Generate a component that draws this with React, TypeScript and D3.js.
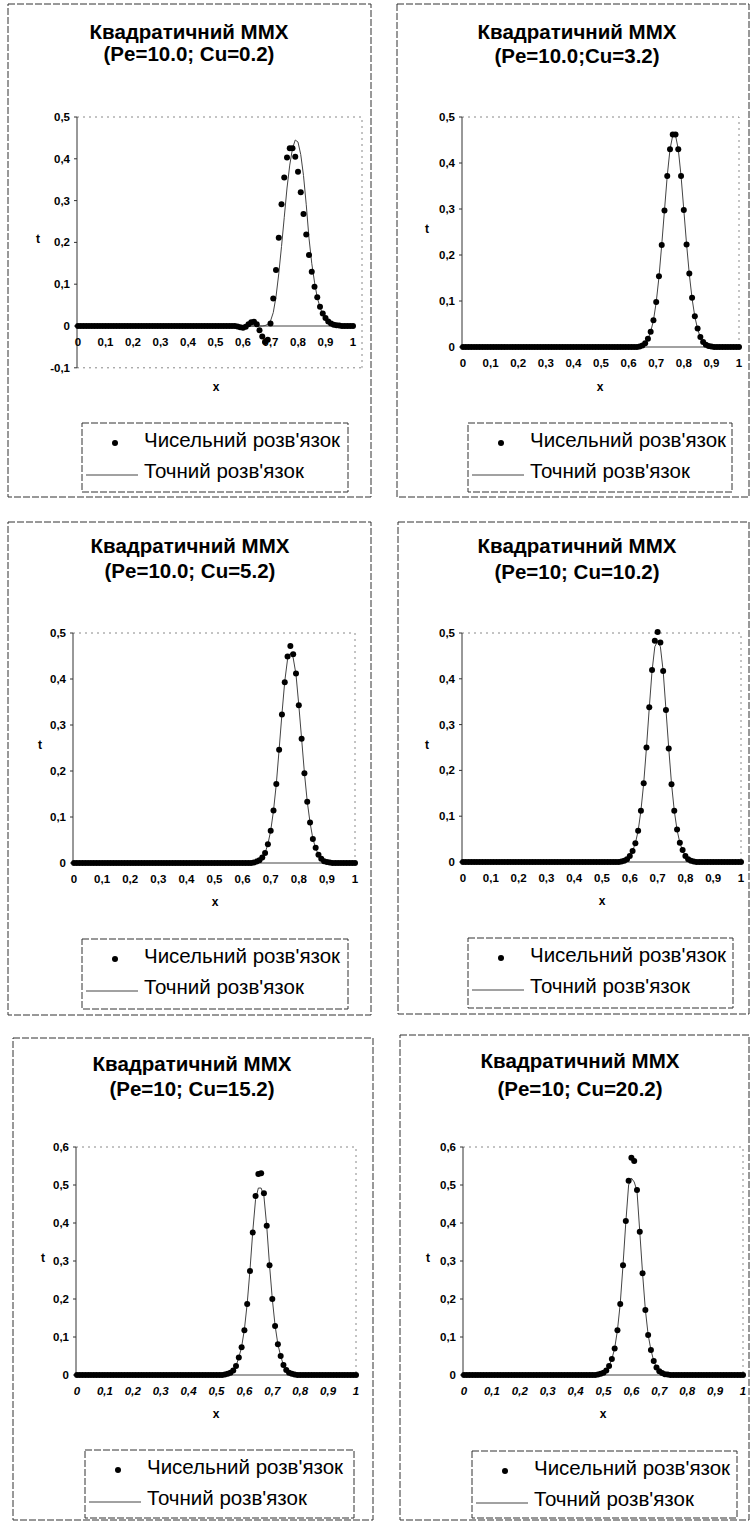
import React from "react";
import * as d3 from "d3";

// ---------- DATA ----------
const X = d3.range(101).map((i) => i / 100);
const xTicks = [0, 0.1, 0.2, 0.3, 0.4, 0.5, 0.6, 0.7, 0.8, 0.9, 1];
const yTicks1 = [-0.1, 0, 0.1, 0.2, 0.3, 0.4, 0.5];
const yTicks5 = [0, 0.1, 0.2, 0.3, 0.4, 0.5];
const yTicks6 = [0, 0.1, 0.2, 0.3, 0.4, 0.5, 0.6];

const titleMain = "Квадратичний ММХ";
const subtitles = [
  "(Pe=10.0; Cu=0.2)",
  "(Pe=10.0;Cu=3.2)",
  "(Pe=10.0; Cu=5.2)",
  "(Pe=10; Cu=10.2)",
  "(Pe=10; Cu=15.2)",
  "(Pe=10; Cu=20.2)",
];
const legendNumeric = "Чисельний розв'язок";
const legendExact = "Точний розв'язок";

// Panel 1: Cu = 0.2
const num1 = [
  0, 0, 0, 0, 0, 0, 0, 0, 0, 0,
  0, 0, 0, 0, 0, 0, 0, 0, 0, 0,
  0, 0, 0, 0, 0, 0, 0, 0, 0, 0,
  0, 0, 0, 0, 0, 0, 0, 0, 0, 0,
  0, 0, 0, 0, 0, 0, 0, 0, 0, 0,
  0, 0, 0, 0, 0, 0, 0, 0, -0.001, -0.003,
  -0.004, -0.002, 0.004, 0.009, 0.01, 0.004, -0.01, -0.025, -0.038, -0.033,
  0.006, 0.066, 0.134, 0.211, 0.291, 0.355, 0.403, 0.425, 0.425, 0.405,
  0.369, 0.32, 0.268, 0.219, 0.17, 0.13, 0.094, 0.069, 0.046, 0.03,
  0.019, 0.011, 0.006, 0.003, 0.002, 0.001, 0, 0, 0, 0,
  0,
];
const exact1 = [
  0, 0, 0, 0, 0, 0, 0, 0, 0, 0,
  0, 0, 0, 0, 0, 0, 0, 0, 0, 0,
  0, 0, 0, 0, 0, 0, 0, 0, 0, 0,
  0, 0, 0, 0, 0, 0, 0, 0, 0, 0,
  0, 0, 0, 0, 0, 0, 0, 0, 0, 0,
  0, 0, 0, 0, 0, 0, 0, 0, 0, 0,
  0, 0, 0, 0, 0, 0, 0, 0, 0.001, 0.004,
  0.012, 0.032, 0.07, 0.125, 0.19, 0.26, 0.33, 0.385, 0.425, 0.445,
  0.44, 0.41, 0.36, 0.29, 0.21, 0.15, 0.105, 0.068, 0.045, 0.028,
  0.016, 0.009, 0.005, 0.002, 0.001, 0, 0, 0, 0, 0,
  0,
];

// Panel 2: Cu = 3.2
const num2 = [
  0, 0, 0, 0, 0, 0, 0, 0, 0, 0,
  0, 0, 0, 0, 0, 0, 0, 0, 0, 0,
  0, 0, 0, 0, 0, 0, 0, 0, 0, 0,
  0, 0, 0, 0, 0, 0, 0, 0, 0, 0,
  0, 0, 0, 0, 0, 0, 0, 0, 0, 0,
  0, 0, 0, 0, 0, 0, 0, 0, 0, 0,
  0, 0, 0, 0, 0.001, 0.003, 0.008, 0.018, 0.033, 0.058,
  0.098, 0.154, 0.222, 0.297, 0.372, 0.43, 0.462, 0.462, 0.43, 0.372,
  0.298, 0.223, 0.16, 0.107, 0.067, 0.04, 0.022, 0.011, 0.005, 0.002,
  0.001, 0, 0, 0, 0, 0, 0, 0, 0, 0,
  0,
];
const exact2 = [
  0, 0, 0, 0, 0, 0, 0, 0, 0, 0,
  0, 0, 0, 0, 0, 0, 0, 0, 0, 0,
  0, 0, 0, 0, 0, 0, 0, 0, 0, 0,
  0, 0, 0, 0, 0, 0, 0, 0, 0, 0,
  0, 0, 0, 0, 0, 0, 0, 0, 0, 0,
  0, 0, 0, 0, 0, 0, 0, 0, 0, 0,
  0, 0, 0, 0, 0.001, 0.003, 0.008, 0.017, 0.033, 0.058,
  0.097, 0.152, 0.222, 0.297, 0.372, 0.43, 0.46, 0.46, 0.43, 0.372,
  0.298, 0.224, 0.158, 0.105, 0.066, 0.039, 0.021, 0.011, 0.005, 0.002,
  0.001, 0, 0, 0, 0, 0, 0, 0, 0, 0,
  0,
];

// Panel 3: Cu = 5.2
const num3 = [
  0, 0, 0, 0, 0, 0, 0, 0, 0, 0,
  0, 0, 0, 0, 0, 0, 0, 0, 0, 0,
  0, 0, 0, 0, 0, 0, 0, 0, 0, 0,
  0, 0, 0, 0, 0, 0, 0, 0, 0, 0,
  0, 0, 0, 0, 0, 0, 0, 0, 0, 0,
  0, 0, 0, 0, 0, 0, 0, 0, 0, 0,
  0, 0, 0, 0, 0.001, 0.003, 0.006, 0.012, 0.022, 0.041,
  0.07, 0.114, 0.172, 0.246, 0.323, 0.393, 0.449, 0.472, 0.454, 0.412,
  0.343, 0.27, 0.195, 0.133, 0.088, 0.052, 0.033, 0.018, 0.009, 0.004,
  0.002, 0.001, 0, 0, 0, 0, 0, 0, 0, 0,
  0,
];
const exact3 = [
  0, 0, 0, 0, 0, 0, 0, 0, 0, 0,
  0, 0, 0, 0, 0, 0, 0, 0, 0, 0,
  0, 0, 0, 0, 0, 0, 0, 0, 0, 0,
  0, 0, 0, 0, 0, 0, 0, 0, 0, 0,
  0, 0, 0, 0, 0, 0, 0, 0, 0, 0,
  0, 0, 0, 0, 0, 0, 0, 0, 0, 0,
  0, 0, 0, 0, 0.001, 0.003, 0.006, 0.012, 0.022, 0.041,
  0.07, 0.114, 0.172, 0.247, 0.324, 0.395, 0.443, 0.456, 0.446, 0.41,
  0.343, 0.27, 0.196, 0.134, 0.088, 0.053, 0.032, 0.018, 0.009, 0.004,
  0.002, 0.001, 0, 0, 0, 0, 0, 0, 0, 0,
  0,
];

// Panel 4: Cu = 10.2
const num4 = [
  0, 0, 0, 0, 0, 0, 0, 0, 0, 0,
  0, 0, 0, 0, 0, 0, 0, 0, 0, 0,
  0, 0, 0, 0, 0, 0, 0, 0, 0, 0,
  0, 0, 0, 0, 0, 0, 0, 0, 0, 0,
  0, 0, 0, 0, 0, 0, 0, 0, 0, 0,
  0, 0, 0, 0, 0, 0, 0, 0.001, 0.003, 0.006,
  0.013, 0.024, 0.041, 0.068, 0.112, 0.172, 0.25, 0.338, 0.419, 0.483,
  0.502, 0.479, 0.417, 0.332, 0.248, 0.17, 0.112, 0.071, 0.042, 0.026,
  0.013, 0.006, 0.003, 0.001, 0, 0, 0, 0, 0, 0,
  0, 0, 0, 0, 0, 0, 0, 0, 0, 0,
  0,
];
const exact4 = [
  0, 0, 0, 0, 0, 0, 0, 0, 0, 0,
  0, 0, 0, 0, 0, 0, 0, 0, 0, 0,
  0, 0, 0, 0, 0, 0, 0, 0, 0, 0,
  0, 0, 0, 0, 0, 0, 0, 0, 0, 0,
  0, 0, 0, 0, 0, 0, 0, 0, 0, 0,
  0, 0, 0, 0, 0, 0, 0, 0.001, 0.003, 0.006,
  0.013, 0.024, 0.041, 0.068, 0.112, 0.172, 0.25, 0.336, 0.417, 0.47,
  0.482, 0.47, 0.417, 0.333, 0.249, 0.171, 0.112, 0.07, 0.042, 0.025,
  0.013, 0.006, 0.003, 0.001, 0, 0, 0, 0, 0, 0,
  0, 0, 0, 0, 0, 0, 0, 0, 0, 0,
  0,
];

// Panel 5: Cu = 15.2
const num5 = [
  0, 0, 0, 0, 0, 0, 0, 0, 0, 0,
  0, 0, 0, 0, 0, 0, 0, 0, 0, 0,
  0, 0, 0, 0, 0, 0, 0, 0, 0, 0,
  0, 0, 0, 0, 0, 0, 0, 0, 0, 0,
  0, 0, 0, 0, 0, 0, 0, 0, 0, 0,
  0, 0, 0, 0.001, 0.003, 0.006, 0.012, 0.024, 0.046, 0.073,
  0.118, 0.187, 0.274, 0.375, 0.471, 0.529, 0.531, 0.478, 0.393, 0.289,
  0.2, 0.129, 0.081, 0.05, 0.026, 0.013, 0.006, 0.003, 0.001, 0,
  0, 0, 0, 0, 0, 0, 0, 0, 0, 0,
  0, 0, 0, 0, 0, 0, 0, 0, 0, 0,
  0,
];
const exact5 = [
  0, 0, 0, 0, 0, 0, 0, 0, 0, 0,
  0, 0, 0, 0, 0, 0, 0, 0, 0, 0,
  0, 0, 0, 0, 0, 0, 0, 0, 0, 0,
  0, 0, 0, 0, 0, 0, 0, 0, 0, 0,
  0, 0, 0, 0, 0, 0, 0, 0, 0, 0,
  0, 0, 0, 0.001, 0.003, 0.006, 0.012, 0.024, 0.046, 0.074,
  0.12, 0.188, 0.276, 0.378, 0.462, 0.492, 0.492, 0.47, 0.392, 0.29,
  0.2, 0.13, 0.081, 0.05, 0.026, 0.013, 0.006, 0.003, 0.001, 0,
  0, 0, 0, 0, 0, 0, 0, 0, 0, 0,
  0, 0, 0, 0, 0, 0, 0, 0, 0, 0,
  0,
];

// Panel 6: Cu = 20.2
const num6 = [
  0, 0, 0, 0, 0, 0, 0, 0, 0, 0,
  0, 0, 0, 0, 0, 0, 0, 0, 0, 0,
  0, 0, 0, 0, 0, 0, 0, 0, 0, 0,
  0, 0, 0, 0, 0, 0, 0, 0, 0, 0,
  0, 0, 0, 0, 0, 0, 0, 0, 0.001, 0.003,
  0.006, 0.012, 0.024, 0.042, 0.07, 0.118, 0.187, 0.289, 0.405, 0.511,
  0.572, 0.563, 0.487, 0.377, 0.268, 0.171, 0.105, 0.066, 0.037, 0.02,
  0.01, 0.005, 0.002, 0.001, 0, 0, 0, 0, 0, 0,
  0, 0, 0, 0, 0, 0, 0, 0, 0, 0,
  0, 0, 0, 0, 0, 0, 0, 0, 0, 0,
  0,
];
const exact6 = [
  0, 0, 0, 0, 0, 0, 0, 0, 0, 0,
  0, 0, 0, 0, 0, 0, 0, 0, 0, 0,
  0, 0, 0, 0, 0, 0, 0, 0, 0, 0,
  0, 0, 0, 0, 0, 0, 0, 0, 0, 0,
  0, 0, 0, 0, 0, 0, 0, 0, 0.001, 0.003,
  0.006, 0.012, 0.024, 0.042, 0.07, 0.118, 0.188, 0.29, 0.402, 0.5,
  0.518, 0.508, 0.485, 0.377, 0.268, 0.172, 0.106, 0.066, 0.037, 0.02,
  0.01, 0.005, 0.002, 0.001, 0, 0, 0, 0, 0, 0,
  0, 0, 0, 0, 0, 0, 0, 0, 0, 0,
  0, 0, 0, 0, 0, 0, 0, 0, 0, 0,
  0,
];

// ---------- LAYOUT ----------
type Layout = {
  box: [number, number, number, number];
  titleX: number;
  t1: number;
  t2: number;
  xL: number;
  xR: number;
  y0: number;
  yTop: number;
  frameR: number;
  tLab: [number, number];
  xLab: [number, number];
  leg: [number, number, number, number];
  italic: boolean;
};

const layouts: Layout[] = [
  { box: [8, 4, 371, 497], titleX: 189, t1: 38.5, t2: 61, xL: 78, xR: 353, y0: 326, yTop: 117, frameR: 362, tLab: [38, 243], xLab: [216, 391], leg: [82, 423, 348, 492], italic: false },
  { box: [397, 4, 749, 497], titleX: 577, t1: 39, t2: 63, xL: 463, xR: 739, y0: 347, yTop: 117, frameR: 739, tLab: [427, 233], xLab: [600, 391], leg: [468, 423, 732, 492], italic: false },
  { box: [8, 522, 371, 1015], titleX: 190, t1: 553, t2: 577.5, xL: 74, xR: 355, y0: 863, yTop: 633, frameR: 355, tLab: [40, 749], xLab: [215, 906], leg: [82, 939, 348, 1009], italic: false },
  { box: [398, 522, 749, 1014], titleX: 577, t1: 553, t2: 579, xL: 463, xR: 741, y0: 862, yTop: 633, frameR: 741, tLab: [427, 749], xLab: [602, 905], leg: [468, 938, 733, 1008], italic: false },
  { box: [13, 1038, 373, 1520], titleX: 192, t1: 1070.5, t2: 1096, xL: 77, xR: 356, y0: 1375, yTop: 1147, frameR: 356, tLab: [43, 1262], xLab: [216, 1418], leg: [85, 1450, 354, 1518], italic: true },
  { box: [400, 1035, 749, 1520], titleX: 580, t1: 1068, t2: 1096, xL: 464, xR: 743, y0: 1375, yTop: 1147, frameR: 743, tLab: [428, 1262], xLab: [603, 1418], leg: [472, 1451, 737, 1518], italic: true },
];

const series = [
  { num: num1, exact: exact1, yTicks: yTicks1 },
  { num: num2, exact: exact2, yTicks: yTicks5 },
  { num: num3, exact: exact3, yTicks: yTicks5 },
  { num: num4, exact: exact4, yTicks: yTicks5 },
  { num: num5, exact: exact5, yTicks: yTicks6 },
  { num: num6, exact: exact6, yTicks: yTicks6 },
];

const FONT = '"Liberation Sans", Arial, Helvetica, sans-serif';
const fmt = (v: number) => (Math.abs(v) < 1e-9 ? "0" : String(+v.toFixed(1)).replace(".", ","));

function Panel({ L, num, exact, yTicks, sub }: { L: Layout; num: number[]; exact: number[]; yTicks: number[]; sub: string }) {
  const yMax = yTicks[yTicks.length - 1];
  const yMin = yTicks[0];
  const x = d3.scaleLinear().domain([0, 1]).range([L.xL, L.xR]);
  const y = d3.scaleLinear().domain([0, yMax]).range([L.y0, L.yTop]);
  const yBot = y(yMin);
  const axisX = L.xL - 1;
  const line = d3
    .line<number>()
    .x((_, i) => x(X[i]))
    .y((d) => y(d));
  const [bx0, by0, bx1, by1] = L.box;
  const [lx0, ly0, lx1, ly1] = L.leg;
  return (
    <g fontFamily={FONT}>
      <rect x={bx0} y={by0} width={bx1 - bx0} height={by1 - by0} fill="none" stroke="#333" strokeWidth={1} strokeDasharray="7 2" />
      <text x={L.titleX} y={L.t1} textAnchor="middle" fontWeight="bold" fontSize={20.5}>{titleMain}</text>
      <text x={L.titleX} y={L.t2} textAnchor="middle" fontWeight="bold" fontSize={20.5}>{sub}</text>
      {/* plot frame */}
      <path d={`M${axisX},${L.yTop}H${L.frameR}V${yBot}`} fill="none" stroke="#888" strokeWidth={1} strokeDasharray="2 4" />
      {yMin < 0 && <line x1={axisX} x2={L.frameR} y1={yBot} y2={yBot} stroke="#888" strokeDasharray="2 4" />}
      {/* y axis */}
      <line x1={axisX} x2={axisX} y1={L.yTop} y2={yBot} stroke="#333" strokeWidth={1} />
      {yTicks.map((t) => (
        <g key={t}>
          <line x1={axisX - 3} x2={axisX} y1={y(t)} y2={y(t)} stroke="#333" />
          <text x={axisX - 7} y={y(t) + 4} textAnchor="end" fontWeight="bold" fontSize={11.5}>{fmt(t)}</text>
        </g>
      ))}
      {/* x axis */}
      <line x1={axisX} x2={L.xR} y1={L.y0} y2={L.y0} stroke="#444" strokeWidth={1} />
      {xTicks.map((t) => (
        <text key={t} x={x(t)} y={L.y0 + 20} textAnchor="middle" fontWeight="bold" fontSize={11.5} fontStyle={L.italic ? "italic" : "normal"}>{fmt(t)}</text>
      ))}
      <text x={L.tLab[0]} y={L.tLab[1]} textAnchor="middle" fontWeight="bold" fontSize={12}>t</text>
      <text x={L.xLab[0]} y={L.xLab[1]} textAnchor="middle" fontWeight="bold" fontSize={12}>x</text>
      {/* exact solution */}
      <path d={line(exact) || ""} fill="none" stroke="#444" strokeWidth={1} />
      {/* numerical solution */}
      {num.map((v, i) => (
        <circle key={i} cx={x(X[i])} cy={y(v)} r={3} fill="#000" />
      ))}
      {/* legend */}
      <rect x={lx0} y={ly0} width={lx1 - lx0} height={ly1 - ly0} fill="#fff" stroke="#333" strokeWidth={1} strokeDasharray="7 2" />
      <circle cx={lx0 + 33} cy={ly0 + 20} r={3} fill="#000" />
      <text x={lx0 + 62} y={ly0 + 24} fontSize={20.5}>{legendNumeric}</text>
      <line x1={lx0 + 4} x2={lx0 + 56} y1={ly0 + 52} y2={ly0 + 52} stroke="#444" strokeWidth={1} />
      <text x={lx0 + 62} y={ly0 + 55} fontSize={20.5}>{legendExact}</text>
    </g>
  );
}

export default function App() {
  return (
    <svg width={750} height={1522} style={{ position: "absolute", left: 0, top: 0, background: "#fff" }}>
      <rect x={0} y={0} width={750} height={1522} fill="#fff" />
      {layouts.map((L, i) => (
        <Panel key={i} L={L} num={series[i].num} exact={series[i].exact} yTicks={series[i].yTicks} sub={subtitles[i]} />
      ))}
    </svg>
  );
}
